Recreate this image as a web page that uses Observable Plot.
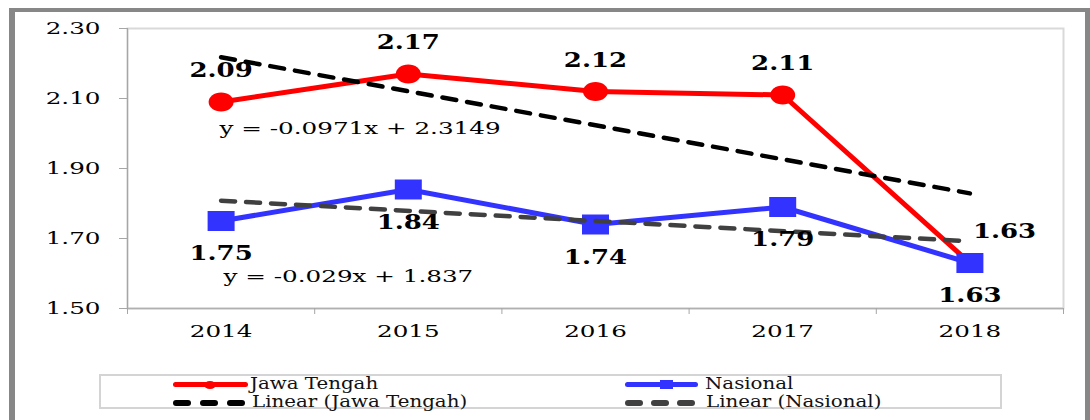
<!DOCTYPE html>
<html>
<head>
<meta charset="utf-8">
<script src="https://cdn.jsdelivr.net/npm/d3@7"></script>
<script src="https://cdn.jsdelivr.net/npm/@observablehq/plot@0.6"></script>
<style>
  body { margin: 0; background: #fff; width: 1090px; height: 420px; overflow: hidden; position: relative; font-family: "DejaVu Serif", serif; }
  #chart { position: absolute; left: 0; top: 0; }
  #frame { position: absolute; left: 9px; top: 8px; width: 1070px; height: 430px; border-left: 6px solid #878787; border-top: 4px solid #878787; border-right: 5px solid #878787; pointer-events: none; }
  #legend { position: absolute; left: 99px; top: 374px; width: 899px; height: 31px; border: 2px solid #d4d4d4; }
  .sw { position: absolute; }
  .lt { position: absolute; font-size: 16.5px; line-height: 16.5px; white-space: nowrap; color: #111; transform: scaleX(1.2); transform-origin: left center; }
</style>
</head>
<body>
<div id="chart"></div>
<div id="legend"></div>
<div id="frame"></div>
<script>
// ---- data ----
const years = [2014, 2015, 2016, 2017, 2018];
const jawaTengah = [2.09, 2.17, 2.12, 2.11, 1.63];
const nasional = [1.75, 1.84, 1.74, 1.79, 1.63];
// linear trend values at first and last year (from the fitted equations)
const trendYears = [2014, 2018];
const trendJawaTengah = [2.218, 1.829];
const trendNasional = [1.808, 1.692];
const yTicks = [1.5, 1.7, 1.9, 2.1, 2.3];
const equationJawaTengah = "y = -0.0971x + 2.3149";
const equationNasional = "y = -0.029x + 1.837";
const seriesNames = ["Jawa Tengah", "Nasional", "Linear (Jawa Tengah)", "Linear (Nasional)"];

// ---- tables ----
const jtRows = years.map((year, i) => ({year, value: jawaTengah[i]}));
const natRows = years.map((year, i) => ({year, value: nasional[i]}));
const trendJtRows = trendYears.map((year, i) => ({year, value: trendJawaTengah[i]}));
const trendNatRows = trendYears.map((year, i) => ({year, value: trendNasional[i]}));
const boundaries = years.map(y => y - 0.5).concat([years[years.length - 1] + 0.5]);
const xDomain = [boundaries[0], boundaries[boundaries.length - 1]];
const fmt = d3.format(".2f");

// custom marker shapes (stretched like the reference)
const ellipseSym = { draw(ctx) { const rx = 12.5, ry = 9.5, k = 0.5523;
  ctx.moveTo(rx, 0);
  ctx.bezierCurveTo(rx, ry * k, rx * k, ry, 0, ry);
  ctx.bezierCurveTo(-rx * k, ry, -rx, ry * k, -rx, 0);
  ctx.bezierCurveTo(-rx, -ry * k, -rx * k, -ry, 0, -ry);
  ctx.bezierCurveTo(rx * k, -ry, rx, -ry * k, rx, 0);
  ctx.closePath(); } };
const rectSym = { draw(ctx) { const hx = 13.5, hy = 10;
  ctx.moveTo(-hx, -hy); ctx.lineTo(hx, -hy); ctx.lineTo(hx, hy); ctx.lineTo(-hx, hy); ctx.closePath(); } };

const chart = Plot.plot({
  width: 1090,
  height: 360,
  marginLeft: 127,
  marginRight: 27,
  marginTop: 28,
  marginBottom: 52,
  style: { fontFamily: "DejaVu Serif", background: "transparent", overflow: "visible" },
  x: { type: "linear", domain: xDomain },
  y: { domain: [yTicks[0], yTicks[yTicks.length - 1]] },
  marks: [
    Plot.frame({ stroke: "#d9d9d9", strokeWidth: 2 }),
    Plot.ruleY([yTicks[0]], { stroke: "#b0b0b0", strokeWidth: 1.5 }),
    Plot.ruleX([xDomain[0]], { stroke: "#a6a6a6", strokeWidth: 1.2 }),
    Plot.axisY({ ticks: yTicks, tickSize: 8, tickPadding: 19, tickFormat: fmt, fontSize: 17, stroke: "#a6a6a6", fill: "#000", label: null }),
    Plot.axisX({ ticks: boundaries, tickSize: 6, fill: "none", stroke: "#a6a6a6", label: null }),
    Plot.axisX({ ticks: years, tickSize: 0, tickPadding: 16, tickFormat: d3.format("d"), fontSize: 17, fill: "#000", label: null }),
    Plot.line(jtRows, { x: "year", y: "value", stroke: "#ff0000", strokeWidth: 5 }),
    Plot.dot(jtRows, { x: "year", y: "value", symbol: ellipseSym, r: 10, fill: "#ff0000" }),
    Plot.line(natRows, { x: "year", y: "value", stroke: "#3333ff", strokeWidth: 5 }),
    Plot.dot(natRows, { x: "year", y: "value", symbol: rectSym, r: 10, fill: "#3333ff" }),
    Plot.line(trendJtRows, { x: "year", y: "value", stroke: "#000", strokeWidth: 4.5, strokeDasharray: "14,11", strokeLinecap: "round" }),
    Plot.line(trendNatRows, { x: "year", y: "value", stroke: "#404040", strokeWidth: 4.5, strokeDasharray: "14,11", strokeLinecap: "round" }),
    Plot.text(jtRows.slice(0, -1), { x: "year", y: "value", text: d => fmt(d.value), dy: -31, fontSize: 20, fontWeight: "bold", lineAnchor: "middle", fill: "#000" }),
    Plot.text(jtRows.slice(-1), { x: "year", y: "value", text: d => fmt(d.value), dx: 3, dy: -31, textAnchor: "start", fontSize: 20, fontWeight: "bold", lineAnchor: "middle", fill: "#000" }),
    Plot.text(natRows, { x: "year", y: "value", text: d => fmt(d.value), dy: 33, fontSize: 20, fontWeight: "bold", lineAnchor: "middle", fill: "#000" }),
    Plot.text([{ year: years[0], value: jawaTengah[0], t: equationJawaTengah }], { x: "year", y: "value", text: "t", dx: -2, dy: 27, textAnchor: "start", fontSize: 17, lineAnchor: "middle", fill: "#000" }),
    Plot.text([{ year: years[0], value: nasional[0], t: equationNasional }], { x: "year", y: "value", text: "t", dx: 2, dy: 56, textAnchor: "start", fontSize: 17, lineAnchor: "middle", fill: "#000" })
  ]
});
document.getElementById("chart").append(chart);

// stretch text horizontally like the reference, keeping each text's anchor point fixed
chart.querySelectorAll("text").forEach(t => {
  const s = t.closest('[font-weight="bold"]') ? 1.3 : 1.45;
  const anchorEl = t.closest("[text-anchor]");
  const anchor = t.getAttribute("text-anchor") || (anchorEl ? anchorEl.getAttribute("text-anchor") : "start");
  const b = t.getBBox();
  const ax = anchor === "middle" ? b.x + b.width / 2 : anchor === "end" ? b.x + b.width : b.x;
  const tr = t.getAttribute("transform") || "";
  t.setAttribute("transform", `${tr} translate(${ax},0) scale(${s},1) translate(${-ax},0)`);
});

// ---- legend (HTML) ----
const legend = document.getElementById("legend");
const ox = 101, oy = 376;
function box(left, top, w, h, color, radius) {
  const d = document.createElement("div");
  d.className = "sw";
  Object.assign(d.style, { left: (left - ox) + "px", top: (top - oy) + "px", width: w + "px", height: h + "px", background: color, borderRadius: radius });
  legend.append(d);
}
function label(left, top, text) {
  const d = document.createElement("div");
  d.className = "lt";
  d.style.left = (left - ox) + "px";
  d.style.top = (top - oy) + "px";
  d.textContent = text;
  legend.append(d);
}
// Jawa Tengah
box(173, 382.2, 75, 5, "#ff0000", "2.5px");
box(204, 380.7, 12, 8, "#ff0000", "50%");
label(250, 376, seriesNames[0]);
// Nasional
box(625, 382.2, 73, 5, "#3333ff", "2.5px");
box(660, 380.2, 13, 9, "#3333ff", "0");
label(705, 376, seriesNames[1]);
// Linear (Jawa Tengah)
[173, 200, 227].forEach(x => box(x, 400, 18, 5.5, "#000", "3px"));
label(252, 394, seriesNames[2]);
// Linear (Nasional)
[625, 651, 677].forEach(x => box(x, 400, 18, 5.5, "#404040", "3px"));
label(706, 394, seriesNames[3]);
</script>
</body>
</html>
